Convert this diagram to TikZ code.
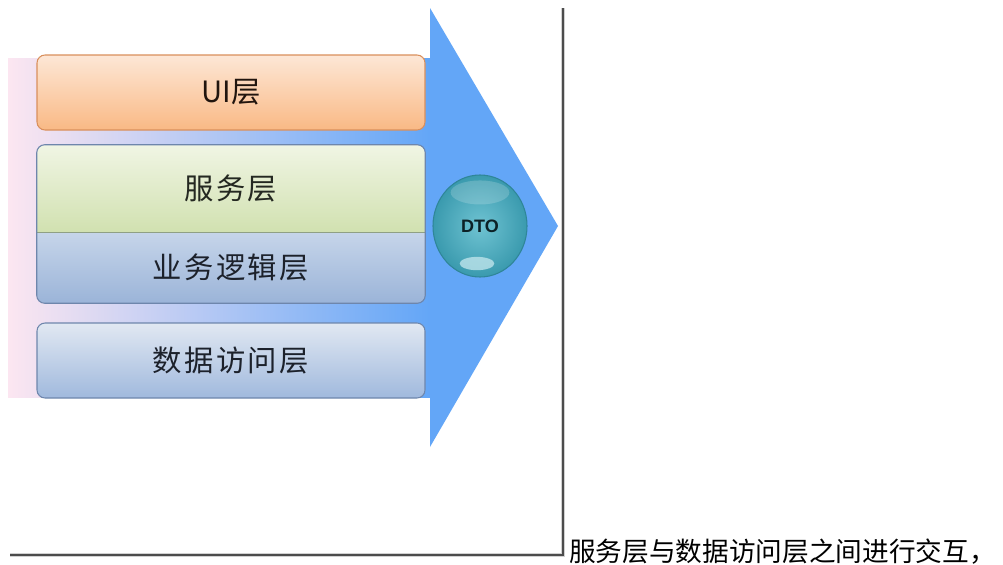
\documentclass[tikz,border=0pt]{standalone}
\usepackage{fontspec}
\usepackage{tikz}
\usetikzlibrary{calc}
\usetikzlibrary{shapes.geometric}
\setsansfont{Liberation Sans}
\newfontfamily\cjk{Noto Sans CJK SC}
\newfontfamily\cjkwide[LetterSpace=8]{Noto Sans CJK SC}
\definecolor{arrowblue}{HTML}{63A6F7}
\definecolor{shaftpink}{HTML}{FCE6F1}
\definecolor{uitop}{HTML}{FDE7D6}
\definecolor{uibot}{HTML}{F9B985}
\definecolor{uiline}{HTML}{D98F5C}
\definecolor{svctop}{HTML}{F0F5E4}
\definecolor{svcbot}{HTML}{D1E1B0}
\definecolor{svcline}{HTML}{8FA084}
\definecolor{biztop}{HTML}{C6D5EA}
\definecolor{bizbot}{HTML}{9BB4D8}
\definecolor{dattop}{HTML}{E1E8F2}
\definecolor{datbot}{HTML}{A0B9DD}
\definecolor{layline}{HTML}{6E86AC}
\definecolor{dtoin}{HTML}{6FC3D2}
\definecolor{dtoout}{HTML}{3A9AAE}
\definecolor{dtoline}{HTML}{2F8698}
\begin{document}
\begin{tikzpicture}[x=0.75pt, y=-0.75pt,
    layer/.style={rectangle, minimum width=291pt, inner sep=0pt,
      font=\cjkwide\fontsize{22}{22}\selectfont},
    dto/.style={ellipse, minimum width=70.5pt, minimum height=76.5pt, inner sep=0pt,
      inner color=dtoin, outer color=dtoout, draw=dtoline, line width=0.8pt,
      font=\sffamily\bfseries\fontsize{13.5}{13.5}\selectfont, text=black!75!dtoline}]
      \useasboundingbox (0,0) rectangle (1003,564);
      \fill[white] (0,0) rectangle (1003,564);
      % big arrow
      \shade[left color=shaftpink, right color=arrowblue] (8,58) rectangle (431,397);
      \fill[arrowblue] (430,8) -- (558,226) -- (430,447) -- cycle;
      % layers
      \node[layer, minimum height=56.25pt, rounded corners=6pt, draw=uiline, line width=0.8pt,
        top color=uitop, bottom color=uibot, text=black!85!uiline,
        font=\cjk\fontsize{22}{22}\selectfont] (ui) at (231,92.5) {UI层};
      \begin{scope}
        \clip[rounded corners=6pt] (37,145) rectangle (425,303);
        \node[layer, minimum height=65.25pt, top color=svctop, bottom color=svcbot,
          text=black!75!svcline] (svc) at (231,188.5) {服务层};
        \node[layer, minimum height=53.25pt, top color=biztop, bottom color=bizbot,
          text=black!75!layline] (biz) at (231,267.5) {业务逻辑层};
      \end{scope}
      \draw[svcline, line width=0.8pt] (svc.south west) -- (svc.south east);
      \draw[layline, line width=0.8pt, rounded corners=6pt] (svc.north west) rectangle (biz.south east);
      \node[layer, minimum height=56.25pt, rounded corners=6pt, draw=layline, line width=0.8pt,
        top color=dattop, bottom color=datbot, text=black!75!layline] (dal) at (231,360.5) {数据访问层};
      % DTO ball
      \node[dto] (dto) at (480,226) {DTO};
      \fill[white, opacity=0.18] ($(dto.north)+(0,18)$) ellipse [x radius=22pt, y radius=9pt];
      \fill[white!55!dtoin, opacity=0.8] ($(dto.south)+(-3,-14)$) ellipse [x radius=13pt, y radius=5pt];
      % frame
      \coordinate (ftop) at (563,8);
      \coordinate (fcorner) at (563,555);
      \coordinate (fleft) at (10,555);
      \draw[black!18, line width=3.5pt] (ftop) -- (fcorner) -- (fleft);
      \draw[black!70, line width=1.8pt] (ftop) -- (fcorner) -- (fleft);
      % caption
      \node[anchor=west, inner sep=0pt, font=\cjk\fontsize{20}{20}\selectfont] (note) at (569,552)
        {服务层与数据访问层之间进行交互，};
    \end{tikzpicture}
\end{document}
